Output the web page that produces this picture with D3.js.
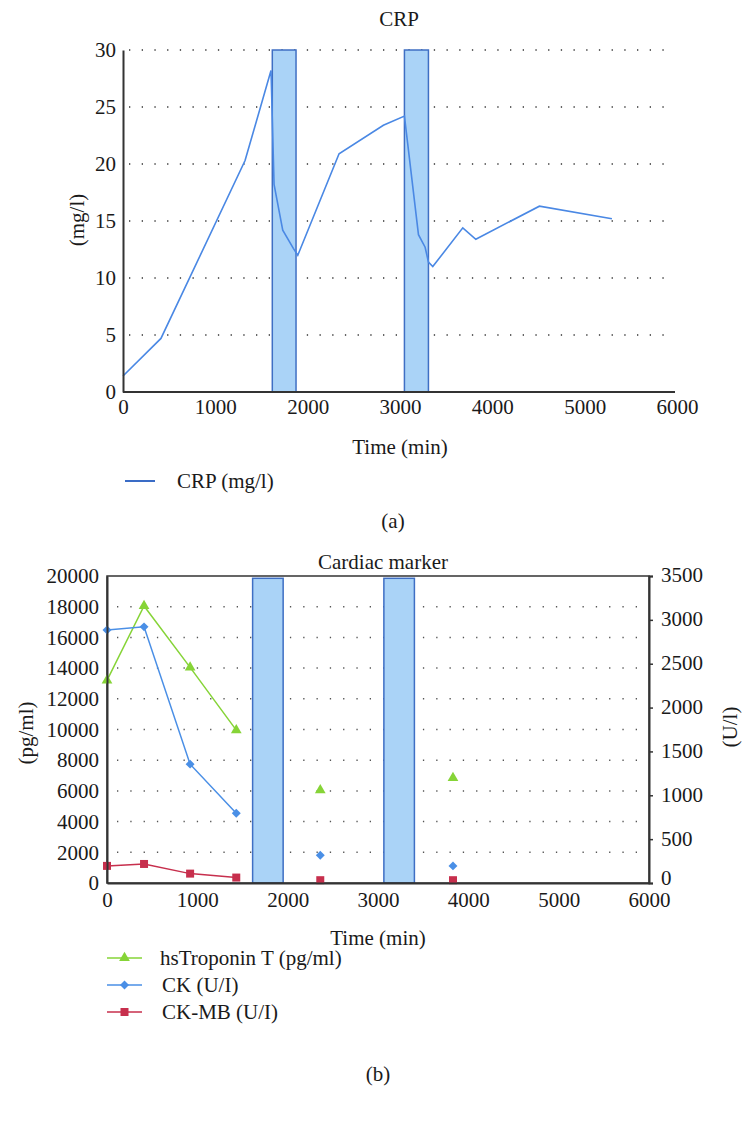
<!DOCTYPE html>
<html><head><meta charset="utf-8">
<script src="https://cdn.jsdelivr.net/npm/d3@7"></script>
<style>body{margin:0;background:#fff}svg{display:block}text{font-family:"Liberation Serif","DejaVu Serif",serif;fill:#1a1a1a}</style>
</head><body><svg id="c" width="754" height="1130"></svg>
<script>
// ---- Panel (a): CRP ----
const crpTime  = [0, 411, 1322, 1603, 1636, 1730, 1845, 1893, 2340, 2820, 3048, 3200, 3272, 3308, 3355, 3680, 3821, 4510, 5295];
const crpValue = [1.4, 4.7, 20.3, 28.2, 18.2, 14.2, 12.6, 12.0, 20.9, 23.4, 24.2, 13.8, 12.7, 11.4, 11.0, 14.4, 13.4, 16.3, 15.2];
const barStartA = [1617, 3048];
const barEndA   = [1874, 3308];
const barTopA   = 30;
const crpYTicks = [0, 5, 10, 15, 20, 25, 30];
const timeTicks = [0, 1000, 2000, 3000, 4000, 5000, 6000];

// ---- Panel (b): Cardiac markers ----
const markerTime   = [0, 410, 920, 1431, 2361, 3830];
const troponin     = [13200, 18050, 14050, 9960, 6050, 6850];   // pg/ml, left axis
const ck           = [2885, 2920, 1355, 795, 316, 195];          // U/l, right axis
const ckmb         = [195, 217, 107, 62, 32, 32];                // U/l, right axis
const connectedN   = 4; // first points joined by lines
const barStartB = [1612, 3065];
const barEndB   = [1950, 3403];
const barTopB   = 19850;
const pgTicks = [0, 2000, 4000, 6000, 8000, 10000, 12000, 14000, 16000, 18000, 20000];
const ulTicks = [0, 500, 1000, 1500, 2000, 2500, 3000, 3500];

const svg = d3.select("#c");
svg.append("rect").attr("width",754).attr("height",1130).attr("fill","#fff");
const FS = 21;
const barFill = "#aad3f7", barStroke = "#3f6fc4";

// ===== Panel A =====
const xa = d3.scaleLinear().domain([0,6000]).range([123,677]);
const ya = d3.scaleLinear().domain([0,30]).range([392,50]);
const ga = svg.append("g");
ga.selectAll("line.grid").data(crpYTicks.filter(d=>d>0)).join("line")
  .attr("x1",xa(0)+6).attr("x2",675).attr("y1",d=>ya(d)).attr("y2",d=>ya(d))
  .attr("stroke","#333").attr("stroke-width",1.6).attr("stroke-dasharray","1.3,11.4");
ga.selectAll("rect.bar").data(barStartA).join("rect")
  .attr("x",(d)=>xa(d)).attr("width",(d,i)=>xa(barEndA[i])-xa(d))
  .attr("y",ya(barTopA)).attr("height",ya(0)-ya(barTopA))
  .attr("fill",barFill).attr("stroke",barStroke).attr("stroke-width",1.5);
const lineA = d3.line().x((d,i)=>xa(crpTime[i])).y(d=>ya(d));
ga.append("path").datum(crpValue).attr("d",lineA).attr("fill","none")
  .attr("stroke","#4a88e4").attr("stroke-width",1.6);
const axA_y = ga.append("g").attr("transform",`translate(${xa(0)},0)`)
  .call(d3.axisLeft(ya).tickValues(crpYTicks).tickSize(0).tickPadding(7));
const axA_x = ga.append("g").attr("transform",`translate(0,${ya(0)})`)
  .call(d3.axisBottom(xa).tickValues(timeTicks).tickSize(0).tickPadding(7).tickFormat(d3.format("d")));
[axA_y,axA_x].forEach(a=>{a.select(".domain").attr("stroke","#333").attr("stroke-width",2);
  a.selectAll("text").attr("font-size",FS).attr("font-family","Liberation Serif").attr("fill","#1a1a1a");});
axA_x.select(".domain").attr("d",`M${xa(0)},0H675`);
ga.append("text").attr("x",399).attr("y",26).attr("text-anchor","middle").attr("font-size",FS).text("CRP");
ga.append("text").attr("transform","translate(84,220) rotate(-90)").attr("text-anchor","middle").attr("font-size",FS).text("(mg/l)");
ga.append("text").attr("x",400).attr("y",454).attr("text-anchor","middle").attr("font-size",FS).text("Time (min)");
ga.append("line").attr("x1",125).attr("x2",155).attr("y1",481).attr("y2",481).attr("stroke","#3a6cc6").attr("stroke-width",2);
ga.append("text").attr("x",177).attr("y",488).attr("font-size",FS).text("CRP (mg/l)");
ga.append("text").attr("x",393).attr("y",528).attr("text-anchor","middle").attr("font-size",FS).text("(a)");

// ===== Panel B =====
const xb = d3.scaleLinear().domain([0,6000]).range([107,649]);
const yl = d3.scaleLinear().domain([0,20000]).range([883,576]);
const yr = d3.scaleLinear().domain([0,3500]).range([883,576]);
const gb = svg.append("g");
gb.selectAll("line.grid").data(pgTicks.filter(d=>d>0 && d<20000)).join("line")
  .attr("x1",xb(0)+10).attr("x2",647).attr("y1",d=>yl(d)).attr("y2",d=>yl(d))
  .attr("stroke","#555").attr("stroke-width",1.5).attr("stroke-dasharray","1.3,12");
gb.selectAll("rect.bar").data(barStartB).join("rect")
  .attr("x",d=>xb(d)).attr("width",(d,i)=>xb(barEndB[i])-xb(d))
  .attr("y",yl(barTopB)).attr("height",yl(0)-yl(barTopB))
  .attr("fill",barFill).attr("stroke",barStroke).attr("stroke-width",1.5);
gb.append("rect").attr("x",xb(0)).attr("y",yl(20000)).attr("width",xb(6000)-xb(0)).attr("height",yl(0)-yl(20000))
  .attr("fill","none").attr("stroke","#333").attr("stroke-width",1.5);

const diamond = {draw(ctx,size){const r=Math.sqrt(size/2);ctx.moveTo(0,-r);ctx.lineTo(r,0);ctx.lineTo(0,r);ctx.lineTo(-r,0);ctx.closePath();}};
const series = [
  {vals: troponin, y: yl, color: "#86d437", sym: d3.symbolTriangle, size: 50, name: "hsTroponin T (pg/ml)"},
  {vals: ck,       y: yr, color: "#4a8fe6", sym: diamond,           size: 40, name: "CK (U/I)"},
  {vals: ckmb,     y: yr, color: "#c72f4d", sym: d3.symbolSquare,   size: 64, name: "CK-MB (U/I)"}
];
series.forEach(s=>{
  const ln = d3.line().x((d,i)=>xb(markerTime[i])).y(d=>s.y(d));
  gb.append("path").datum(s.vals.slice(0,connectedN)).attr("d",ln).attr("fill","none")
    .attr("stroke",s.color).attr("stroke-width",1.5);
  gb.selectAll(null).data(s.vals).join("path")
    .attr("transform",(d,i)=>`translate(${xb(markerTime[i])},${s.y(d)})`)
    .attr("d",d3.symbol().type(s.sym).size(s.size)).attr("fill",s.color);
});
const axL = gb.append("g").attr("transform",`translate(${xb(0)},0)`)
  .call(d3.axisLeft(yl).tickValues(pgTicks).tickSize(0).tickPadding(8).tickFormat(d3.format("d")));
const axR = gb.append("g").attr("transform",`translate(${xb(6000)},0)`)
  .call(d3.axisRight(yr).tickValues(ulTicks).tickSize(4).tickPadding(8).tickFormat(d3.format("d")));
const axB = gb.append("g").attr("transform",`translate(0,${yl(0)})`)
  .call(d3.axisBottom(xb).tickValues(timeTicks).tickSize(0).tickPadding(9).tickFormat(d3.format("d")));
[axL,axR,axB].forEach(a=>{a.select(".domain").attr("stroke","#333").attr("stroke-width",2);
  a.selectAll(".tick line").attr("stroke","#333").attr("stroke-width",1.5);
  a.selectAll("text").attr("font-size",FS).attr("font-family","Liberation Serif").attr("fill","#1a1a1a");});
axR.selectAll(".tick text").attr("dy",d=>d===0?"0.05em":"0.28em");
gb.append("text").attr("x",383).attr("y",569).attr("text-anchor","middle").attr("font-size",FS).text("Cardiac marker");
gb.append("text").attr("transform","translate(33,733) rotate(-90)").attr("text-anchor","middle").attr("font-size",FS).text("(pg/ml)");
gb.append("text").attr("transform","translate(737,727) rotate(-90)").attr("text-anchor","middle").attr("font-size",FS).text("(U/l)");
gb.append("text").attr("x",378).attr("y",945).attr("text-anchor","middle").attr("font-size",FS).text("Time (min)");
const leg = gb.selectAll("g.leg").data(series).join("g").attr("transform",(d,i)=>`translate(0,${958+i*27})`);
leg.append("line").attr("x1",107).attr("x2",142).attr("stroke",d=>d.color).attr("stroke-width",1.6);
leg.append("path").attr("transform","translate(124.5,0)").attr("d",d=>d3.symbol().type(d.sym).size(d.size)()).attr("fill",d=>d.color);
leg.append("text").attr("x",d=>d.name.startsWith("hs")?160:162).attr("y",7).attr("font-size",FS).text(d=>d.name);
gb.append("text").attr("x",378).attr("y",1081).attr("text-anchor","middle").attr("font-size",FS).text("(b)");
</script></body></html>
